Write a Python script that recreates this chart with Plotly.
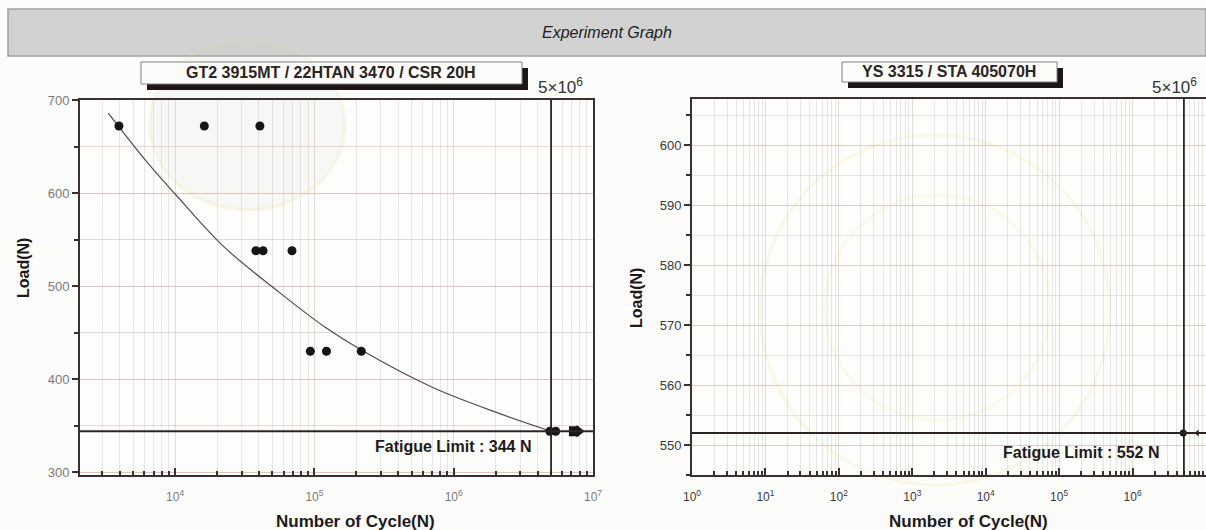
import plotly.graph_objects as go

W, H = 1206, 530

# ---------------- data ----------------
left_title = "GT2 3915MT / 22HTAN 3470 / CSR 20H"
right_title = "YS 3315 / STA 405070H"

left_cycles = [3950, 16200, 40600, 38000, 42800, 69000, 93500, 122000, 217000, 4.9e6, 5.4e6]
left_load = [672, 672, 672, 538, 538, 538, 430, 430, 430, 344, 344]
left_runout_cycles = [7.3e6]
left_runout_load = [344]

curve_cycles = [3311, 6310, 10000, 22130, 56230, 118900, 218800, 707900, 2138000, 5000000]
curve_load = [686, 633, 599, 543, 493, 456, 431, 391, 363, 344]

right_cycles = [4.9e6]
right_load = [552]
right_runout_cycles = [7.6e6]
right_runout_load = [552]

left_limit = 344
right_limit = 552
limit_cycles = 5e6

left_yticks = [300, 400, 500, 600, 700]
right_yticks = [550, 560, 570, 580, 590, 600]
left_xticks = [1e4, 1e5, 1e6, 1e7]
left_xtext = ["10<sup>4</sup>", "10<sup>5</sup>", "10<sup>6</sup>", "10<sup>7</sup>"]
right_xticks = [1e0, 1e1, 1e2, 1e3, 1e4, 1e5, 1e6, 1e7]
right_xtext = ["10<sup>%d</sup>" % k for k in range(8)]

FONT = "Liberation Sans, Arial, sans-serif"
INK = "#161414"
AXIS = "#3a3030"


def px(x):
    return x / W


def py(y):
    return 1 - y / H


left_minor = [d * 10 ** k for k in range(3, 7) for d in range(2, 10)]
right_minor = [d * 10 ** k for k in range(0, 7) for d in range(2, 10)]

fig = go.Figure()

# fitted curve
fig.add_trace(go.Scatter(x=curve_cycles, y=curve_load, mode="lines",
                         line=dict(color="#5a4a4a", width=1.2, shape="spline", smoothing=1.0),
                         xaxis="x", yaxis="y", showlegend=False, hoverinfo="skip"))
# test points
fig.add_trace(go.Scatter(x=left_cycles, y=left_load, mode="markers",
                         marker=dict(color=INK, size=9, symbol="circle"),
                         xaxis="x", yaxis="y", showlegend=False))
fig.add_trace(go.Scatter(x=left_runout_cycles, y=left_runout_load, mode="markers",
                         marker=dict(color=INK, size=10, symbol="square"),
                         xaxis="x", yaxis="y", showlegend=False))
fig.add_trace(go.Scatter(x=[c * 1.09 for c in left_runout_cycles], y=left_runout_load, mode="markers",
                         marker=dict(color=INK, size=11, symbol="triangle-right"),
                         xaxis="x", yaxis="y", showlegend=False))
fig.add_trace(go.Scatter(x=right_cycles, y=right_load, mode="markers",
                         marker=dict(color=INK, size=7, symbol="circle"),
                         xaxis="x2", yaxis="y2", showlegend=False))
fig.add_trace(go.Scatter(x=right_runout_cycles, y=right_runout_load, mode="markers",
                         marker=dict(color="#333", size=6, symbol="triangle-left"),
                         xaxis="x2", yaxis="y2", showlegend=False))

grid_major = "rgba(205,175,165,0.45)"
grid_minor = "rgba(190,185,185,0.35)"

common_x = dict(type="log", showline=True, linecolor=AXIS, linewidth=2, mirror=True,
                ticks="inside", ticklen=7, tickcolor=AXIS, tickwidth=1.5,
                showgrid=True, gridcolor=grid_major, gridwidth=1, zeroline=False,
                automargin=False, ticklabelstandoff=10)
fig.update_layout(
    xaxis=dict(common_x, range=[3.317, 7.0], domain=[px(80), px(593)], anchor="y",
               tickvals=left_xticks, ticktext=left_xtext,
               tickfont=dict(family=FONT, size=12, color="#7a7a7a"),
               minor=dict(tickvals=left_minor, ticks="inside", ticklen=4, tickcolor=AXIS,
                          showgrid=True, gridcolor=grid_minor, gridwidth=1)),
    yaxis=dict(range=[297, 700], domain=[py(475), py(100)], anchor="x",
               showline=True, linecolor=AXIS, linewidth=2, mirror=True,
               ticks="outside", ticklen=6, tickcolor=AXIS, tickwidth=1.5,
               tickvals=left_yticks, tickfont=dict(family=FONT, size=13, color="#7a7a7a"),
               showgrid=True, gridcolor=grid_major, zeroline=False, automargin=False,
               minor=dict(dtick=50, tick0=300, ticks="outside", ticklen=4, tickcolor=AXIS,
                          showgrid=True, gridcolor=grid_major)),
    xaxis2=dict(common_x, range=[0, 7.0], domain=[px(692), 1.0], anchor="y2",
                tickvals=right_xticks, ticktext=right_xtext,
                tickfont=dict(family=FONT, size=12, color="#3a3a3a"),
                minor=dict(tickvals=right_minor, ticks="inside", ticklen=4, tickcolor=AXIS,
                           showgrid=True, gridcolor=grid_minor, gridwidth=1)),
    yaxis2=dict(range=[545, 607.7], domain=[py(475), py(99)], anchor="x2",
                showline=True, linecolor=AXIS, linewidth=2, mirror=False,
                ticks="outside", ticklen=6, tickcolor=AXIS, tickwidth=1.5,
                tickvals=right_yticks, tickfont=dict(family=FONT, size=13, color="#3a3a3a"),
                showgrid=True, gridcolor=grid_major, zeroline=False, automargin=False,
                minor=dict(dtick=5, tick0=545, ticks="outside", ticklen=4, tickcolor=AXIS,
                           showgrid=True, gridcolor=grid_minor)),
)

shapes = []
# header band
shapes.append(dict(type="rect", xref="paper", yref="paper", x0=px(8), x1=1.0, y0=py(56), y1=py(9),
                   fillcolor="#d2d2d2", line=dict(color="#a0a0a0", width=1.5), layer="below"))
# faint watermarks
shapes.append(dict(type="circle", xref="paper", yref="paper", x0=px(760), x1=px(1110), y0=py(485), y1=py(135),
                   line=dict(color="rgba(235,225,140,0.18)", width=3), layer="below"))
shapes.append(dict(type="circle", xref="paper", yref="paper", x0=px(825), x1=px(1050), y0=py(420), y1=py(195),
                   line=dict(color="rgba(235,225,140,0.15)", width=3), layer="below"))
shapes.append(dict(type="circle", xref="paper", yref="paper", x0=px(150), x1=px(345), y0=py(210), y1=py(40),
                   fillcolor="rgba(200,195,195,0.10)", line=dict(color="rgba(230,220,150,0.18)", width=3),
                   layer="below"))
# title boxes (shadow + box)
for (x0, x1, y0, y1) in [(141, 522, 62, 84), (842, 1057, 62, 82)]:
    shapes.append(dict(type="rect", xref="paper", yref="paper", x0=px(x0 + 6), x1=px(x1 + 6),
                       y0=py(y1 + 6), y1=py(y0 + 6), fillcolor="#1c1616", line=dict(width=0)))
    shapes.append(dict(type="rect", xref="paper", yref="paper", x0=px(x0), x1=px(x1),
                       y0=py(y1), y1=py(y0), fillcolor="#fbfbf9", line=dict(color="#8a8080", width=1)))
# fatigue limit lines
shapes.append(dict(type="line", xref="x domain", yref="y", x0=0, x1=1, y0=left_limit, y1=left_limit,
                   line=dict(color="#2a2424", width=1.8)))
shapes.append(dict(type="line", xref="x2 domain", yref="y2", x0=0, x1=1, y0=right_limit, y1=right_limit,
                   line=dict(color="#2a2424", width=1.8)))
# 5x10^6 lines
shapes.append(dict(type="line", xref="x", yref="y domain", x0=limit_cycles, x1=limit_cycles, y0=0, y1=1,
                   line=dict(color="#2a2424", width=1.8)))
shapes.append(dict(type="line", xref="x2", yref="y2 domain", x0=limit_cycles, x1=limit_cycles, y0=0, y1=1,
                   line=dict(color="#2a2424", width=1.8)))


def note(text, x, y, size, color="#1e1a1a", xanchor="center", angle=0):
    return dict(text=text, x=px(x), y=py(y), xref="paper", yref="paper",
                xanchor=xanchor, yanchor="middle", textangle=angle,
                showarrow=False, font=dict(family=FONT, size=size, color=color))


annotations = [
    note("<i>Experiment Graph</i>", 607, 33, 16, "#222"),
    note("<b>%s</b>" % left_title, 331, 73, 16, "#2a2424"),
    note("<b>%s</b>" % right_title, 949, 72, 16, "#2a2424"),
    note("5×10<sup>6</sup>", 536, 86, 17, "#333", xanchor="left"),
    note("5×10<sup>6</sup>", 1150, 86, 17, "#333", xanchor="left"),
    note("<b>Fatigue Limit : %d N</b>" % left_limit, 453, 446, 16),
    note("<b>Fatigue Limit : %d N</b>" % right_limit, 1081, 452, 16),
    note("<b>Number of Cycle(N)</b>", 355, 521, 17),
    note("<b>Number of Cycle(N)</b>", 968, 521, 17),
    note("<b>Load(N)</b>", 23, 268, 16, angle=-90),
    note("<b>Load(N)</b>", 636, 298, 16, angle=-90),
]

fig.update_layout(width=W, height=H, margin=dict(l=0, r=0, t=0, b=0),
                  paper_bgcolor="#fcfcfa", plot_bgcolor="rgba(253,253,251,0.6)",
                  shapes=shapes, annotations=annotations, showlegend=False,
                  font=dict(family=FONT))

fig.write_html("out.html")
